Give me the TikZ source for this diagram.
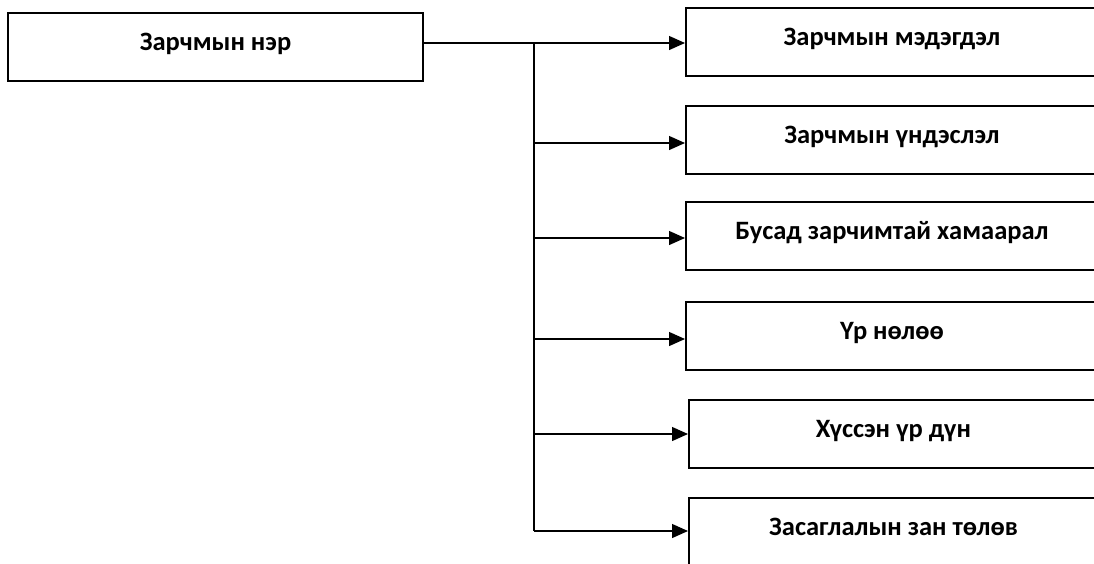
\documentclass[tikz,border=0pt]{standalone}
\usepackage{fontspec}
\setmainfont{Carlito}
\usetikzlibrary{arrows.meta}
\begin{document}
\begin{tikzpicture}[x=1pt,y=-1pt,
  box/.style={draw=black, line width=2pt, rectangle, inner sep=0pt,
    font=\fontsize{26.5}{30}\selectfont\bfseries,
    text height=12pt, text depth=5pt},
  rbox/.style={box, minimum width=412pt, minimum height=68pt},
  conn/.style={draw=black, line width=1.3pt},
  arr/.style={conn, -{Triangle[length=16pt,width=14pt]}}]
\useasboundingbox (0,0) rectangle (1094,563);
\clip (0,0) rectangle (1094,563);
\fill[white] (0,0) rectangle (1094,563);
% main box
\node[box, minimum width=415pt, minimum height=68pt] (main) at (215.5,47) {Зарчмын нэр};
% right boxes
\node[rbox] (b1) at (892,41.5) {Зарчмын мэдэгдэл};
\node[rbox] (b2) at (892,139.5) {Зарчмын үндэслэл};
\node[rbox] (b3) at (892,235.5) {Бусад зарчимтай хамаарал};
\node[rbox] (b4) at (892,335.5) {Үр нөлөө};
\node[rbox, minimum width=409pt] (b5) at (893.5,434) {Хүссэн үр дүн};
\node[rbox, minimum width=409pt] (b6) at (893.5,531.5) {Засаглалын зан төлөв};
% junctions on trunk
\coordinate (j1) at (534,43);
\coordinate (j2) at (534,143);
\coordinate (j3) at (534,238);
\coordinate (j4) at (534,339);
\coordinate (j5) at (534,434);
\coordinate (j6) at (534,531);
% connectors
\draw[conn] (main.east |- j1) -- (j1);
\draw[conn] (j1) -- (j6);
\draw[arr] (j1) -- (j1 -| b1.west);
\draw[arr] (j2) -- (j2 -| b2.west);
\draw[arr] (j3) -- (j3 -| b3.west);
\draw[arr] (j4) -- (j4 -| b4.west);
\draw[arr] (j5) -- (j5 -| b5.west);
\draw[arr] (j6) -- (j6 -| b6.west);
\end{tikzpicture}
\end{document}
